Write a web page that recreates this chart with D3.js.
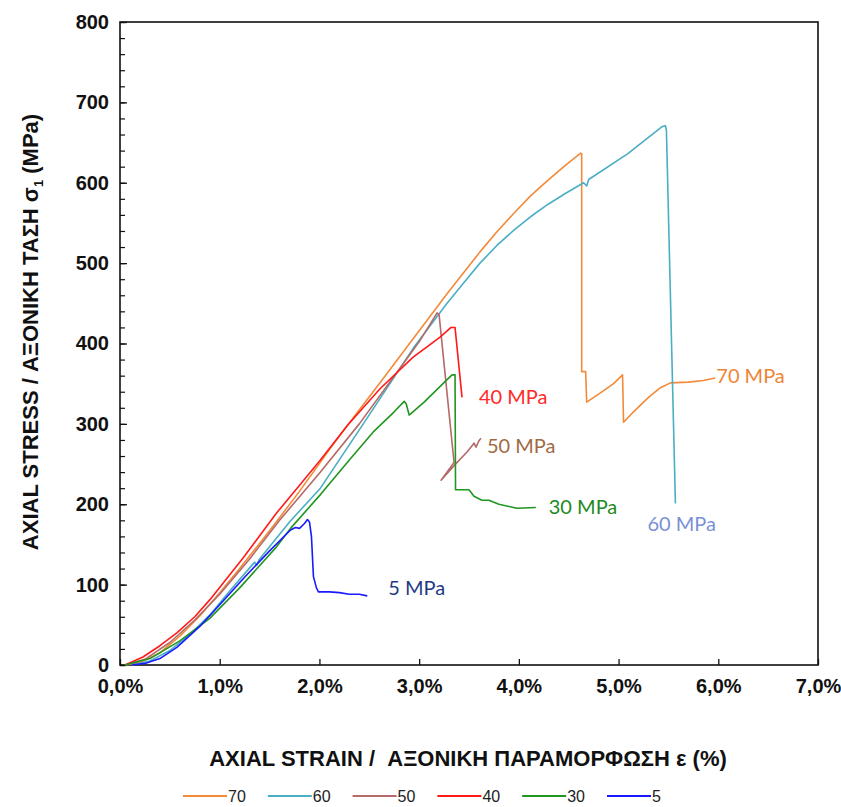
<!DOCTYPE html>
<html lang="en">
<head>
    <meta charset="UTF-8">
    <title>Axial stress - strain</title>
    <script src="https://cdn.jsdelivr.net/npm/d3@7"></script>
    <style>
        body { margin: 0; background: #fff; }
        text { font-family: "Liberation Sans", Arial, sans-serif; }
        .tick-label { font-weight: bold; font-size: 20px; fill: #111; }
        .axis-title { font-weight: bold; font-size: 22px; fill: #111; }
        .ann { font-family: Lato, "Open Sans", sans-serif; font-size: 20px; }
        .legend text { font-size: 16px; fill: #222; }
    </style>
</head>
<body>
<script>
    const [width, height] = [841, 807]
    const margin = {left: 120, right: 23, top: 22, bottom: 142}

    // strain (%), stress (MPa)
    const s70 = [[0.05,0],[0.2,3],[0.4,15],[0.6,36],[0.8,61],[1.0,90],[1.2,120],[1.5,167],[1.8,216],[2.1,268],[2.28,298],[2.6,350],[2.94,406],[3.28,462],[3.61,514],[3.78,539],[3.95,562],[4.12,584],[4.29,603],[4.46,621],[4.62,637],[4.63,636],[4.63,365],[4.67,365],[4.68,327],[4.8,337],[4.95,350],[5.04,361],[5.05,302],[5.15,315],[5.3,333],[5.42,345],[5.52,351],[5.7,352],[5.85,354],[5.97,357]]
    const s60 = [[0.12,0],[0.3,5],[0.5,18],[0.7,38],[0.9,62],[1.1,92],[1.35,128],[1.37,124],[1.4,132],[1.7,178],[2.01,220],[2.44,300],[2.94,394],[3.28,450],[3.45,476],[3.61,500],[3.78,522],[3.95,541],[4.12,558],[4.29,573],[4.47,587],[4.65,600],[4.68,596],[4.7,604],[5.09,636],[5.44,670],[5.47,671],[5.48,665],[5.57,201]]
    const s50 = [[0.05,0],[0.25,7],[0.5,28],[0.75,56],[1.0,88],[1.3,132],[1.6,180],[2.01,240],[2.4,300],[2.8,368],[3.0,402],[3.18,438],[3.2,436],[3.35,252],[3.22,230],[3.35,248],[3.48,265],[3.55,276],[3.57,271],[3.6,279],[3.62,282]]
    const s40 = [[0.05,0],[0.23,10],[0.4,24],[0.57,40],[0.75,60],[0.9,81],[1.24,134],[1.57,189],[2.01,255],[2.28,298],[2.61,344],[2.94,383],[3.21,408],[3.32,420],[3.36,420],[3.43,333]]
    const s30 = [[0.05,0],[0.3,8],[0.6,30],[0.9,58],[1.2,96],[1.57,147],[1.71,170],[2.01,212],[2.3,255],[2.54,290],[2.75,315],[2.85,328],[2.87,325],[2.9,311],[3.05,327],[3.28,355],[3.33,361],[3.36,361],[3.365,218],[3.5,218],[3.55,210],[3.63,205],[3.7,205],[3.8,200],[3.98,195],[4.17,196]]
    const s5 = [[0.12,0],[0.25,2],[0.4,8],[0.57,22],[0.8,48],[1.0,75],[1.24,108],[1.5,142],[1.71,168],[1.76,171],[1.8,170],[1.85,176],[1.88,181],[1.9,178],[1.92,160],[1.94,110],[1.97,96],[1.99,91],[2.1,91],[2.2,90],[2.3,88],[2.4,88],[2.48,86]]

    const seriesNames = ['70', '60', '50', '40', '30', '5']
    const seriesData = [s70, s60, s50, s40, s30, s5]
    const colors = ['#f28a3a', '#4aaec4', '#b46a68', '#ff1a1a', '#1f961f', '#1a1aff']

    const xTicks = [0, 1, 2, 3, 4, 5, 6, 7]
    const yTicks = [0, 100, 200, 300, 400, 500, 600, 700, 800]

    // end labels: text, anchor point [strain, stress]
    const annTexts = ['70 MPa', '60 MPa', '50 MPa', '40 MPa', '30 MPa', '5 MPa']
    const annAt = [[5.98, 360], [5.29, 176], [3.68, 272], [3.6, 334], [4.3, 196], [2.69, 96]]
    const annColors = ['#ee8535', '#7a90d6', '#a06a45', '#ff2a2a', '#1e8a1e', '#1f3a86']

    const svg = d3.select('body').append('svg')
        .attr('width', width).attr('height', height)

    const x = d3.scaleLinear().domain([0, 7]).range([margin.left, width - margin.right])
    const y = d3.scaleLinear().domain([0, 800]).range([height - margin.bottom, margin.top])

    // x axis
    const xAxis = d3.axisBottom(x).tickValues(xTicks).tickSize(-6).tickPadding(14)
        .tickFormat(d => d3.format('.1f')(d).replace('.', ',') + '%')
    svg.append('g').attr('transform', `translate(0,${y(0)})`).call(xAxis)
        .call(g => g.select('.domain').remove())
        .call(g => g.selectAll('text').attr('class', 'tick-label').attr('dy', '0.71em'))
        .call(g => g.selectAll('line').attr('stroke', '#111').attr('stroke-width', 1.3))

    // y axis, minor ticks every 20
    const yMinor = d3.axisLeft(y).tickValues(d3.range(0, 801, 20)).tickSize(-5).tickFormat('')
    svg.append('g').attr('transform', `translate(${x(0)},0)`).call(yMinor)
        .call(g => g.select('.domain').remove())
        .call(g => g.selectAll('line').attr('stroke', '#111').attr('stroke-width', 1.2))
    const yAxis = d3.axisLeft(y).tickValues(yTicks).tickSize(-7).tickPadding(11)
    svg.append('g').attr('transform', `translate(${x(0)},0)`).call(yAxis)
        .call(g => g.select('.domain').remove())
        .call(g => g.selectAll('text').attr('class', 'tick-label'))
        .call(g => g.selectAll('line').attr('stroke', '#111').attr('stroke-width', 1.3))

    // frame
    svg.append('rect')
        .attr('x', x(0)).attr('y', y(800))
        .attr('width', x(7) - x(0)).attr('height', y(0) - y(800))
        .attr('fill', 'none').attr('stroke', '#111').attr('stroke-width', 1.6)

    // curves
    const line = d3.line().x(d => x(d[0])).y(d => y(d[1]))
    svg.append('g').selectAll('path').data(seriesData).join('path')
        .attr('d', line)
        .attr('fill', 'none')
        .attr('stroke', (d, i) => colors[i])
        .attr('stroke-width', 1.6)
        .attr('stroke-linejoin', 'round')

    // end labels
    svg.append('g').selectAll('text').data(annTexts).join('text')
        .attr('class', 'ann')
        .attr('x', (d, i) => x(annAt[i][0]))
        .attr('y', (d, i) => y(annAt[i][1]))
        .attr('dy', '0.35em')
        .attr('fill', (d, i) => annColors[i])
        .text(d => d)

    // axis titles
    svg.append('text').attr('class', 'axis-title')
        .attr('x', 468).attr('y', 758).attr('dy', '0.35em')
        .attr('text-anchor', 'middle')
        .attr('xml:space', 'preserve')
        .text('AXIAL STRAIN /  ΑΞΟΝΙΚΗ ΠΑΡΑΜΟΡΦΩΣΗ ε (%)')

    const yt = svg.append('text').attr('class', 'axis-title')
        .attr('transform', 'translate(30,332) rotate(-90)')
        .attr('text-anchor', 'middle').attr('dy', '0.35em')
    yt.append('tspan').text('AXIAL STRESS / ΑΞΟΝΙΚΗ ΤΑΣΗ σ')
    yt.append('tspan').attr('font-size', '13px').attr('dy', '5').text('1')
    yt.append('tspan').attr('dy', '-5').text('  (MPa)')

    // legend
    const legend = svg.append('g').attr('class', 'legend').attr('transform', 'translate(183,796)')
    let lx = 0
    seriesNames.forEach((name, i) => {
        const item = legend.append('g').attr('transform', `translate(${lx},0)`)
        item.append('line').attr('x1', 0).attr('x2', 44).attr('y1', 0).attr('y2', 0)
            .attr('stroke', colors[i]).attr('stroke-width', 2)
        const t = item.append('text').attr('x', 45).attr('dy', '0.35em').text(name)
        lx += 45 + t.node().getComputedTextLength() + 22
    })
</script>
</body>
</html>
